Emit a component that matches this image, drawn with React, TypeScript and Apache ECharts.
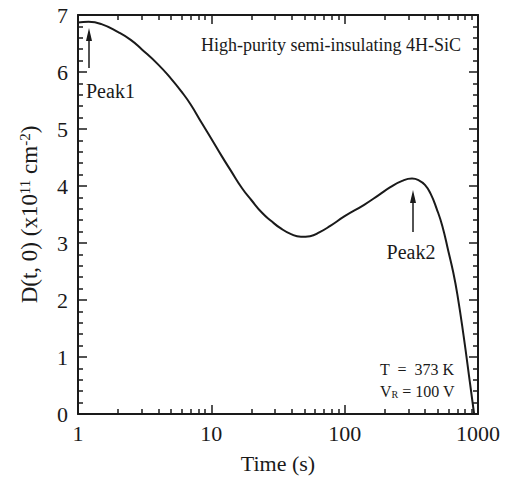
import React, { useEffect, useRef } from "react";
import * as echarts from "echarts";

const timeS = [1, 1.2, 1.5, 2, 2.5, 3, 4, 5, 6, 7, 8.5, 10, 12, 14, 17, 20, 24, 28, 33, 40, 47, 55, 65, 78, 100, 140, 180, 220, 270, 320, 360, 400, 440, 490, 540, 600, 650, 700, 780, 870, 935];
const density = [6.87, 6.88, 6.84, 6.7, 6.56, 6.4, 6.13, 5.88, 5.65, 5.43, 5.1, 4.83, 4.52, 4.27, 3.96, 3.75, 3.53, 3.39, 3.26, 3.15, 3.11, 3.12, 3.19, 3.3, 3.47, 3.67, 3.84, 3.98, 4.09, 4.13, 4.1, 4.02, 3.87, 3.6, 3.3, 2.85, 2.5, 2.1, 1.37, 0.55, 0];
const xMajorTicks = [1, 10, 100, 1000];
const xMinorTicks = [2, 3, 4, 5, 6, 7, 8, 9, 20, 30, 40, 50, 60, 70, 80, 90, 200, 300, 400, 500, 600, 700, 800, 900];

const FONT = "Liberation Serif";

export default function App() {
  const ref = useRef<HTMLDivElement>(null);
  useEffect(() => {
    document.body.style.margin = "0";
    const chart = echarts.init(ref.current!, null, { renderer: "svg" });
    const black = "#1a1a1a";
    const majorX = (position: string, labels: boolean) => ({
      type: "log",
      logBase: 10,
      min: 1,
      max: 1000,
      position,
      axisLine: { show: true, lineStyle: { color: black, width: 2 } },
      axisTick: { show: true, inside: true, length: 9, lineStyle: { color: black, width: 1.5 }, customValues: xMajorTicks },
      axisLabel: labels
        ? { show: true, customValues: xMajorTicks, color: black, fontSize: 22, fontFamily: FONT, fontWeight: "normal", margin: 8, formatter: (v: number) => String(Math.round(v)) }
        : { show: false },
      splitLine: { show: false },
      ...(labels
        ? { name: "Time (s)", nameLocation: "middle", nameGap: 38, nameTextStyle: { color: black, fontSize: 22, fontFamily: FONT, fontWeight: "normal" } }
        : {}),
    });
    const minorX = (position: string) => ({
      type: "log",
      logBase: 10,
      min: 1,
      max: 1000,
      position,
      axisLine: { show: false },
      axisTick: { show: true, inside: true, length: 5, lineStyle: { color: black, width: 1.5 }, customValues: xMinorTicks },
      axisLabel: { show: false },
      splitLine: { show: false },
    });
    const yAx = (position: string, labels: boolean) => ({
      type: "value",
      min: 0,
      max: 7,
      interval: 1,
      position,
      axisLine: { show: true, lineStyle: { color: black, width: 2 } },
      axisTick: { show: true, inside: true, length: 9, lineStyle: { color: black, width: 1.5 } },
      minorTick: { show: true, splitNumber: 5, length: 5, lineStyle: { color: black, width: 1.5 } },
      axisLabel: labels ? { show: true, color: black, fontSize: 22, fontFamily: FONT, fontWeight: "normal", margin: 10 } : { show: false },
      splitLine: { show: false },
      ...(labels
        ? {
            name: "{m|D(t, 0) (x10}{s|11}{m| cm}{s|-2}{m|)}",
            nameLocation: "middle",
            nameGap: 36,
            nameRotate: 90,
            nameTextStyle: {
              color: black,
              fontFamily: FONT,
              fontSize: 23,
              fontWeight: "normal",
              rich: {
                m: { fontSize: 23, fontFamily: FONT, fontWeight: "normal", color: black, lineHeight: 25 },
                s: { fontSize: 15, fontFamily: FONT, fontWeight: "normal", color: black, verticalAlign: "top", lineHeight: 25 },
              },
            },
          }
        : {}),
    });
    chart.setOption({
      animation: false,
      backgroundColor: "#ffffff",
      grid: { left: 78, top: 15, right: 32, bottom: 64, containLabel: false },
      xAxis: [majorX("bottom", true), minorX("bottom"), majorX("top", false), minorX("top")],
      yAxis: [yAx("left", true), yAx("right", false)],
      series: [
        {
          type: "line",
          xAxisIndex: 0,
          yAxisIndex: 0,
          data: timeS.map((t, i) => [t, density[i]]),
          showSymbol: false,
          smooth: 0.5,
          lineStyle: { color: black, width: 2 },
        },
      ],
      graphic: [
        { type: "text", x: 201, y: 45, style: { text: "High-purity semi-insulating 4H-SiC", fill: black, font: `18px ${FONT}`, verticalAlign: "middle" } },
        { type: "text", x: 86, y: 91, style: { text: "Peak1", fill: black, font: `20px ${FONT}`, verticalAlign: "middle" } },
        { type: "line", shape: { x1: 89, y1: 68, x2: 89, y2: 36 }, style: { stroke: black, lineWidth: 1.5 } },
        { type: "polygon", shape: { points: [[89, 28], [86, 41], [92, 41]] }, style: { fill: black } },
        { type: "text", x: 411, y: 252, style: { text: "Peak2", fill: black, font: `20px ${FONT}`, verticalAlign: "middle", align: "center" } },
        { type: "line", shape: { x1: 413, y1: 232, x2: 413, y2: 198 }, style: { stroke: black, lineWidth: 1.5 } },
        { type: "polygon", shape: { points: [[413, 190], [410, 203], [416, 203]] }, style: { fill: black } },
        { type: "text", x: 380, y: 369, style: { text: "T  =  373 K", fill: black, font: `16px ${FONT}`, verticalAlign: "middle" } },
        {
          type: "text",
          x: 380,
          y: 391,
          style: {
            text: "{v|V}{r|R}{v| = 100 V}",
            fill: black,
            font: `16px ${FONT}`,
            verticalAlign: "middle",
            rich: {
              v: { fontSize: 16, fontFamily: FONT, fill: black, lineHeight: 16 },
              r: { fontSize: 10, fontFamily: FONT, fill: black, verticalAlign: "bottom", lineHeight: 16 },
            },
          },
        },
      ],
    });
    return () => chart.dispose();
  }, []);
  return <div ref={ref} style={{ width: 510, height: 479 }} />;
}
